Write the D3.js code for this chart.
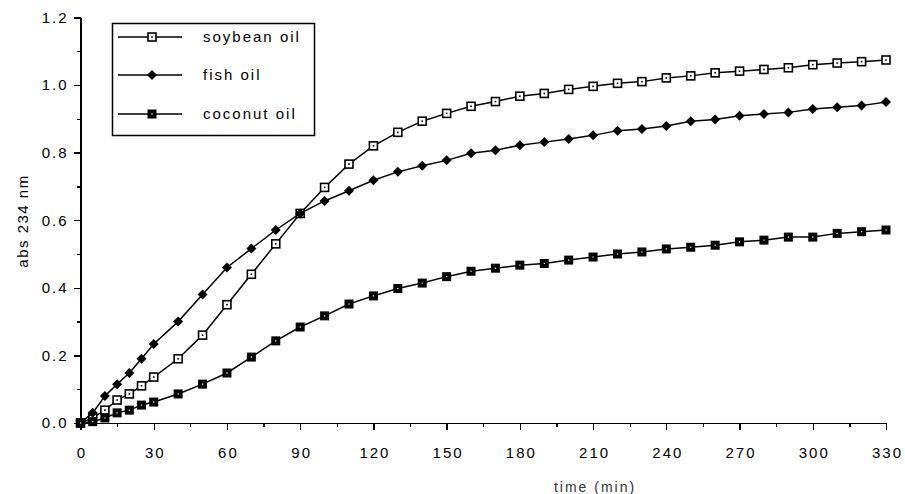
<html>
<head>
<meta charset="UTF-8">
<style>
  body { margin: 0; background: #fff; }
  text { font-family: "Liberation Sans", Arial, sans-serif; fill: #000; }
  .axis path, .axis line { fill: none; stroke: #000; stroke-width: 1.3px; shape-rendering: crispEdges; }
  .axis text { font-size: 15px; letter-spacing: 2px; }
</style>
<script src="https://cdn.jsdelivr.net/npm/d3@7"></script>
</head>
<body>
<div class="chart"></div>
<script>

var times = [0, 5, 10, 15, 20, 25, 30, 40, 50, 60, 70, 80, 90, 100, 110, 120, 130, 140, 150, 160,
  170, 180, 190, 200, 210, 220, 230, 240, 250, 260, 270, 280, 290, 300, 310, 320, 330];

var soybean = [0, 0.015, 0.038, 0.068, 0.086, 0.11, 0.136, 0.19, 0.26, 0.35, 0.44, 0.53, 0.62, 0.697,
  0.766, 0.82, 0.86, 0.893, 0.916, 0.937, 0.951, 0.967, 0.975, 0.987, 0.996, 1.005, 1.01, 1.021,
  1.027, 1.036, 1.041, 1.046, 1.051, 1.06, 1.065, 1.069, 1.074];

var fish = [0, 0.03, 0.08, 0.115, 0.148, 0.19, 0.234, 0.30, 0.38, 0.46, 0.516, 0.571, 0.62, 0.657,
  0.687, 0.718, 0.743, 0.761, 0.777, 0.798, 0.807, 0.822, 0.831, 0.840, 0.851, 0.865, 0.870, 0.879,
  0.893, 0.898, 0.909, 0.914, 0.919, 0.929, 0.934, 0.939, 0.950];

var coconut = [0, 0.004, 0.015, 0.03, 0.038, 0.053, 0.062, 0.086, 0.115, 0.148, 0.195, 0.243, 0.284,
  0.317, 0.352, 0.376, 0.398, 0.414, 0.433, 0.449, 0.458, 0.467, 0.472, 0.482, 0.491, 0.5, 0.506,
  0.515, 0.52, 0.526, 0.536, 0.541, 0.55, 0.55, 0.561, 0.566, 0.571];

var seriesNames = ["soybean oil", "fish oil", "coconut oil"];
var xTicks = [0, 30, 60, 90, 120, 150, 180, 210, 240, 270, 300, 330];
var yTicks = [0, 0.2, 0.4, 0.6, 0.8, 1.0, 1.2];

var width = 905, height = 494;

var x = d3.scaleLinear().domain([0, 330]).range([80.5, 886]);
var y = d3.scaleLinear().domain([0, 1.2]).range([423, 17.4]);

var svg = d3.select(".chart").append("svg")
    .attr("width", width)
    .attr("height", height);

// minor ticks
svg.append("g")
    .attr("class", "axis")
    .attr("transform", "translate(0,423)")
    .call(d3.axisBottom(x).tickValues(d3.range(15, 330, 30)).tickSize(4).tickFormat(""))
    .select(".domain").remove();
svg.append("g")
    .attr("class", "axis")
    .attr("transform", "translate(80.5,0)")
    .call(d3.axisLeft(y).tickValues([0.1, 0.3, 0.5, 0.7, 0.9, 1.1]).tickSize(4).tickFormat(""))
    .select(".domain").remove();

svg.append("g")
    .attr("class", "axis")
    .attr("transform", "translate(0,423)")
    .call(d3.axisBottom(x).tickValues(xTicks).tickSize(7).tickSizeOuter(0).tickPadding(17))
  .selectAll("text")
    .attr("dx", "1px");

svg.append("g")
    .attr("class", "axis")
    .attr("transform", "translate(80.5,0)")
    .call(d3.axisLeft(y).tickValues(yTicks).tickSize(7).tickSizeOuter(0).tickPadding(5)
      .tickFormat(d3.format(".1f")));

svg.append("text")
    .attr("transform", "translate(28,221) rotate(-90)")
    .attr("text-anchor", "middle")
    .style("font-size", "15px")
    .style("letter-spacing", "1.5px")
    .text("abs 234 nm");

svg.append("text")
    .attr("x", 595)
    .attr("y", 492)
    .attr("text-anchor", "middle")
    .style("font-size", "14px")
    .style("letter-spacing", "2px")
    .style("fill", "#333")
    .text("time (min)");

var line = d3.line()
    .x(function(d) { return x(d[0]); })
    .y(function(d) { return y(d[1]); });

function pairs(vals) {
  return times.map(function(t, i) { return [t, vals[i]]; });
}

var data = [pairs(soybean), pairs(fish), pairs(coconut)];

function marker(g, type) {
  if (type == 0) {
    g.append("rect").attr("x", -4).attr("y", -4).attr("width", 8).attr("height", 8)
      .attr("fill", "#fff").attr("stroke", "#000").attr("stroke-width", 1.6);
    g.append("rect").attr("x", -0.8).attr("y", -0.8).attr("width", 1.6).attr("height", 1.6)
      .attr("fill", "#000");
  } else if (type == 1) {
    g.append("path").attr("d", "M0,-5L5,0L0,5L-5,0Z").attr("fill", "#000");
  } else {
    g.append("rect").attr("x", -4.5).attr("y", -4.5).attr("width", 9).attr("height", 9)
      .attr("fill", "#000");
    g.append("rect").attr("x", -0.6).attr("y", -0.6).attr("width", 1.2).attr("height", 1.2)
      .attr("fill", "#fff");
  }
}

data.forEach(function(series, k) {
  svg.append("path")
      .datum(series)
      .attr("fill", "none")
      .attr("stroke", "#000")
      .attr("stroke-width", 1.5)
      .attr("d", line);

  svg.append("g").selectAll("g")
      .data(series)
    .enter().append("g")
      .attr("transform", function(d) { return "translate(" + x(d[0]) + "," + y(d[1]) + ")"; })
      .each(function() { marker(d3.select(this), k); });
});

// legend
var legend = svg.append("g");
legend.append("rect")
    .attr("x", 112.5).attr("y", 23.5)
    .attr("width", 202).attr("height", 112)
    .attr("fill", "#fff").attr("stroke", "#000").attr("stroke-width", 1.5);

var rowY = [37, 75, 114];
seriesNames.forEach(function(name, k) {
  legend.append("line")
      .attr("x1", 118).attr("x2", 182)
      .attr("y1", rowY[k]).attr("y2", rowY[k])
      .attr("stroke", "#000").attr("stroke-width", 1.5);
  marker(legend.append("g").attr("transform", "translate(152," + rowY[k] + ")"), k);
  legend.append("text")
      .attr("x", 203).attr("y", rowY[k] + 5)
      .style("font-size", "15px")
      .style("letter-spacing", "2px")
      .text(name);
});

</script>
</body>
</html>
